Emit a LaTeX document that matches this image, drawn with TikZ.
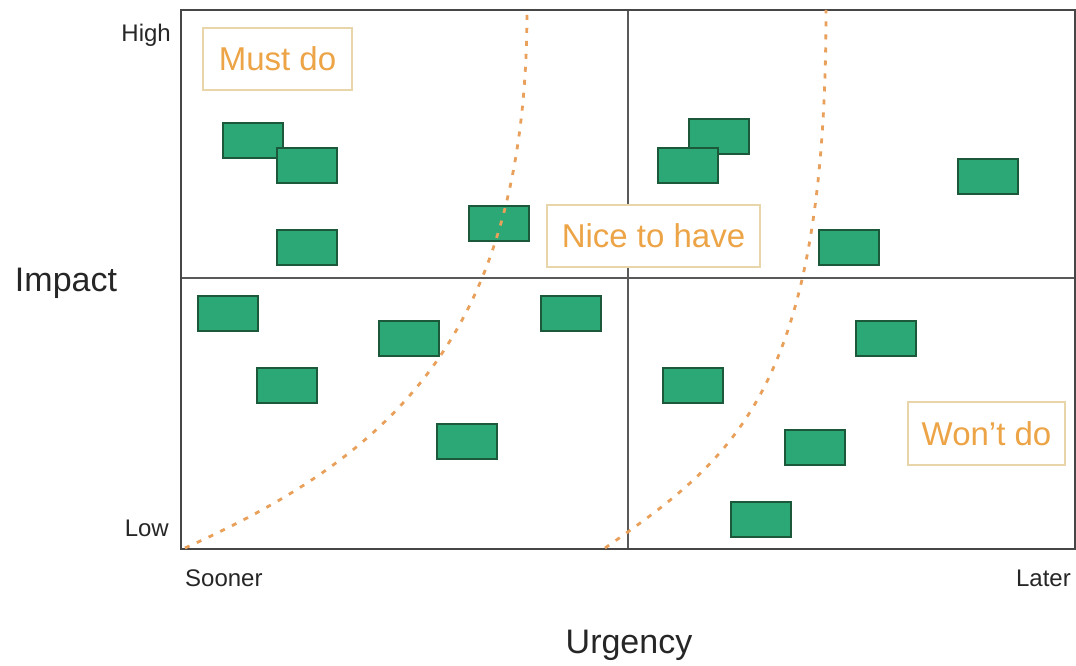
\documentclass[tikz,border=0pt]{standalone}
\usepackage{fontspec}
\setmainfont{Liberation Sans}
\definecolor{taskfill}{RGB}{44,168,118}
\definecolor{taskdraw}{RGB}{28,88,58}
\definecolor{axiscol}{RGB}{70,70,70}
\definecolor{curvecol}{RGB}{232,160,90}
\definecolor{tagtext}{RGB}{236,164,70}
\definecolor{tagdraw}{RGB}{232,214,170}
\tikzset{
  task/.style={draw=taskdraw, fill=taskfill, line width=2pt, minimum width=60pt, minimum height=35pt, inner sep=0pt},
  tag/.style={draw=tagdraw, fill=white, line width=1.5pt, text=tagtext, inner sep=0pt, font=\fontsize{33}{36}\selectfont},
  ticklabel/.style={font=\fontsize{24}{26}\selectfont, text=black!85, inner sep=0pt},
  axislabel/.style={font=\fontsize{34}{38}\selectfont, text=black!85, inner sep=0pt},
  frame/.style={draw=axiscol, line width=2pt},
  divider/.style={draw=axiscol!90, line width=1.6pt},
  sweep/.style={draw=curvecol, line width=2.8pt, dash pattern=on 5pt off 8pt}
}
\begin{document}
\begin{tikzpicture}[x=1pt,y=-1pt]
\useasboundingbox (0,0) rectangle (1076,666);
% axes frame and quadrant dividers
\coordinate (tl) at (181,10);
\coordinate (br) at (1075,549);
\draw[divider] (628,10) -- (628,549);
\draw[divider] (181,278) -- (1075,278);
\draw[frame] (tl) rectangle (br);
% tasks
\node[task] (t1) at (253,140.5) {};
\node[task] (t2) at (307,165.5) {};
\node[task] (t3) at (307,247.5) {};
\node[task] (t4) at (499,223.5) {};
\node[task] (t5) at (718.5,136.5) {};
\node[task] (t6) at (687.5,165.5) {};
\node[task] (t7) at (987.5,176) {};
\node[task] (t8) at (848.5,247.5) {};
\node[task] (t9) at (228,313.5) {};
\node[task] (t10) at (287,385) {};
\node[task] (t11) at (408.5,338) {};
\node[task] (t12) at (467,441) {};
\node[task] (t13) at (571,313.5) {};
\node[task] (t14) at (886,338) {};
\node[task] (t15) at (692.5,385) {};
\node[task] (t16) at (814.5,447.5) {};
\node[task] (t17) at (760.5,519.5) {};
% dashed boundaries
\draw[sweep] (185,548) .. controls (385,458) and (527,340) .. (527,10);
\draw[sweep] (605,548) .. controls (734,458) and (826,390) .. (826,10);
% category tags
\node[tag, minimum width=149pt, minimum height=62pt] (must) at (277.5,59) {Must do};
\node[tag, minimum width=213pt, minimum height=62pt] (nice) at (653.5,236) {Nice to have};
\node[tag, minimum width=157pt, minimum height=63pt] (wont) at (986.5,433.5) {Won't do};
% axis labels
\node[ticklabel, anchor=east] (high) at (171,35) {High};
\node[ticklabel, anchor=east] (low) at (169,528) {Low};
\node[ticklabel, anchor=west] (sooner) at (185,578) {Sooner};
\node[ticklabel, anchor=east] (later) at (1071,578) {Later};
\node[axislabel] (impact) at (66,283) {Impact};
\node[axislabel] (urgency) at (629,645) {Urgency};
\end{tikzpicture}
\end{document}
